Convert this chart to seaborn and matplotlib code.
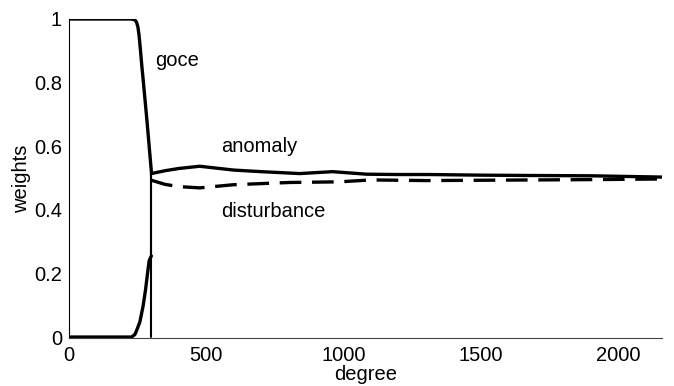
import numpy as np
import pandas as pd
import matplotlib
matplotlib.use("Agg")
import matplotlib.pyplot as plt
import seaborn as sns

# ---- data ----
goce_degree = [0, 100, 200, 228, 240, 246, 251, 255, 260, 265, 270, 284, 295, 300]
goce_weight = [1.0, 1.0, 1.0, 1.0, 0.997, 0.99, 0.975, 0.95, 0.905, 0.855, 0.81, 0.68, 0.57, 0.52]

# anomaly and disturbance weights coincide below degree 300
low_degree = [0, 100, 200, 228, 240, 246, 258, 270, 279, 286, 292, 300]
low_weight = [0.0, 0.0, 0.0, 0.0, 0.008, 0.02, 0.047, 0.098, 0.15, 0.2, 0.24, 0.255]

anomaly_degree = [300, 350, 400, 476, 600, 700, 840, 960, 1084, 1200, 1313, 1500, 1676, 1900, 2160]
anomaly_weight = [0.514, 0.523, 0.53, 0.537, 0.525, 0.52, 0.514, 0.52, 0.512, 0.511, 0.511, 0.509, 0.508, 0.507, 0.503]

disturbance_degree = [300, 350, 400, 476, 600, 804, 985, 1100, 1300, 1500, 1700, 1900, 2160]
disturbance_weight = [0.493, 0.48, 0.473, 0.469, 0.479, 0.486, 0.488, 0.494, 0.492, 0.493, 0.494, 0.495, 0.497]

x_ticks = [0, 500, 1000, 1500, 2000]
y_ticks = [0, 0.2, 0.4, 0.6, 0.8, 1.0]
y_tick_labels = ["0", "0.2", "0.4", "0.6", "0.8", "1"]

# ---- style ----
sns.set_theme(style="white")
plt.rcParams["font.family"] = ["Liberation Sans", "DejaVu Sans"]
plt.rcParams["text.color"] = "black"
plt.rcParams["axes.labelcolor"] = "black"
FS = 14.5

fig = plt.figure(figsize=(6.74, 3.86), dpi=100)
ax = fig.add_axes([69 / 674, 48 / 386, (662 - 69) / 674, (338 - 19) / 386])

LW = 2.4
kw = dict(estimator=None, sort=False, color="black", ax=ax, legend=False)

sns.lineplot(x=goce_degree, y=goce_weight, lw=LW, **kw)
sns.lineplot(x=low_degree, y=low_weight, lw=LW, **kw)
sns.lineplot(x=anomaly_degree, y=anomaly_weight, lw=LW, **kw)
dist = pd.DataFrame({"degree": disturbance_degree, "weight": disturbance_weight})
sns.lineplot(data=dist, x="degree", y="weight", lw=LW, **kw)
ax.lines[-1].set_dashes((6.5, 3.2))

# vertical jumps at the switch degree
sns.lineplot(x=[goce_degree[-1], goce_degree[-1]], y=[goce_weight[-1], 0.0], lw=1.5, **kw)
sns.lineplot(x=[low_degree[-1], anomaly_degree[0]], y=[low_weight[-1], anomaly_weight[0]], lw=1.5, **kw)

ax.set_xlim(0, 2160)
ax.set_ylim(-0.003, 1.0)
ax.set_xticks(x_ticks)
ax.set_xticklabels([str(t) for t in x_ticks])
ax.set_yticks(y_ticks)
ax.set_yticklabels(y_tick_labels)

for s in ["top", "right"]:
    ax.spines[s].set_visible(False)
ax.spines["left"].set_color("black")
ax.spines["left"].set_linewidth(0.8)
ax.spines["bottom"].set_color("#444444")
ax.spines["bottom"].set_linewidth(0.8)

ax.tick_params(axis="both", direction="in", length=4, width=0.8, color="black",
               labelsize=FS, labelcolor="black")
ax.tick_params(axis="x", pad=6)
ax.tick_params(axis="y", pad=5)

ax.set_xlabel("degree", fontsize=FS, labelpad=0, color="black")
ax.set_ylabel("weights", fontsize=FS, labelpad=2, color="black")

ax.text(313, 0.853, "goce", fontsize=FS, va="baseline", ha="left", color="black")
ax.text(553, 0.583, "anomaly", fontsize=FS, va="baseline", ha="left", color="black")
ax.text(553, 0.376, "disturbance", fontsize=FS, va="baseline", ha="left", color="black")

fig.savefig("out.png", dpi=100)
